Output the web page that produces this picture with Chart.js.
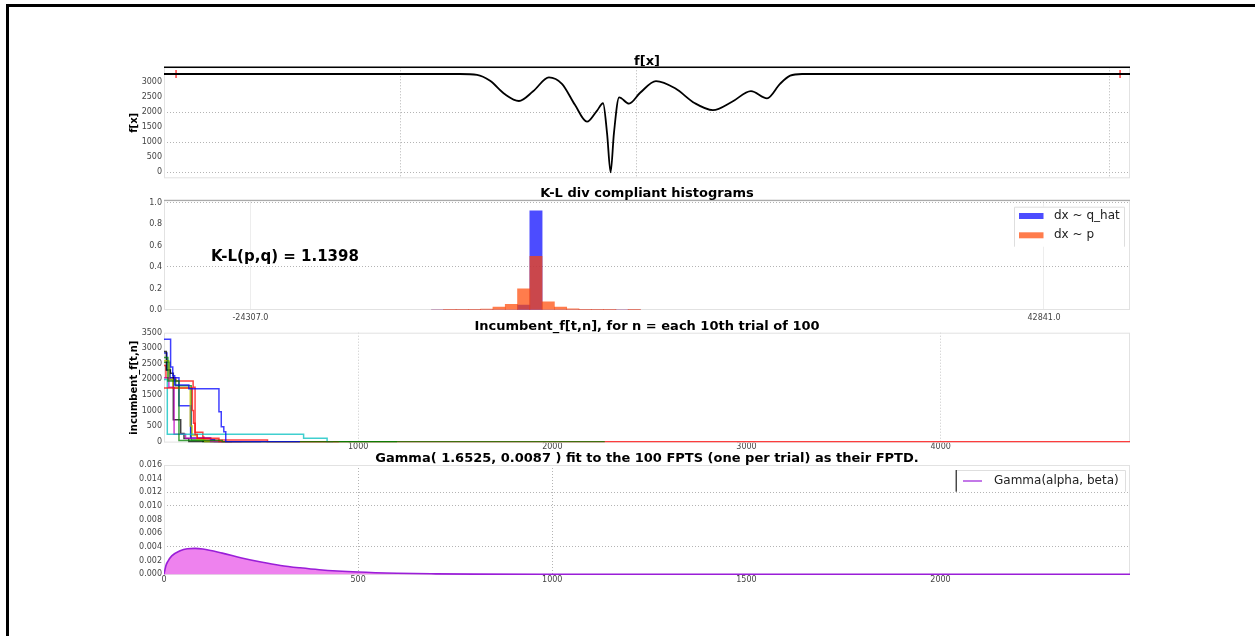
<!DOCTYPE html>
<html>
<head>
<meta charset="utf-8">
<script src="https://cdn.jsdelivr.net/npm/chart.js@4.4.0/dist/chart.umd.min.js"></script>
<style>
  body { margin: 0; background: #fff; }
  #page { position: relative; width: 1255px; height: 636px; overflow: hidden; background: #fff; }
  #frame { position: absolute; left: 6px; top: 4px; width: 1260px; height: 700px; border-left: 3px solid #000; border-top: 3px solid #000; }
  canvas { position: absolute; left: 100px; }
</style>
</head>
<body>
<div id="page">
  <div id="frame"></div>
  <canvas id="fxChart" width="1040" height="150" style="top:40px"></canvas>
  <canvas id="klChart" width="1040" height="150" style="top:180px"></canvas>
  <canvas id="incChart" width="1040" height="145" style="top:310px"></canvas>
  <canvas id="gammaChart" width="1040" height="150" style="top:440px"></canvas>
</div>
<script>
// --- f[x] ---
const fxX = [0, 1.253, 1.325, 1.380, 1.443, 1.502, 1.562, 1.629, 1.684, 1.739, 1.790, 1.832, 1.858, 1.875, 1.890, 1.904, 1.926, 1.968, 2.015, 2.082, 2.163, 2.247, 2.323, 2.404, 2.484, 2.552, 2.607, 2.650, 2.700, 4.088];
const fxY = [3276, 3276, 3250, 3050, 2600, 2377, 2700, 3164, 2950, 2250, 1686, 2050, 2302, 1300, 0, 1300, 2498, 2290, 2650, 3040, 2800, 2300, 2072, 2350, 2707, 2467, 2950, 3220, 3276, 3276];
const fxBounds = [0.051, 4.046];
const fxYTicks = [0, 500, 1000, 1500, 2000, 2500, 3000];
const fxXTicks = [1, 2, 4];

// --- K-L histograms ---
const klBins = [-8464, -7424, -6384, -5344, -4304, -3264, -2224, -1184, -144, 896, 1936, 2976, 4016, 5056, 6096, 7136, 8176];
const klQhat = [0, 0, 0, 0, 0, 0, 0, 0.046, 0.922, 0, 0, 0, 0, 0, 0, 0, 0];
const klP = [0, 0.002, 0.004, 0.004, 0.009, 0.028, 0.053, 0.198, 0.498, 0.077, 0.028, 0.012, 0.004, 0.003, 0.002, 0, 0.004];
const klXTicks = [-24307, 42841];
const klYTicks = [0, 0.2, 0.4, 0.6, 0.8, 1.0];
const klText = 'K-L(p,q) = 1.1398';
const klTextAt = [-27640, 0.49];

// --- incumbent f[t,n], each 10th trial ---
const trial10 = [[0, 3290], [34, 2400], [45, 2120], [55, 1820], [128, 1700], [283, 960], [295, 480], [308, 320], [318, 0], [700, 0]];
const trial20 = [[0, 2700], [20, 1950], [77, 40], [300, 0], [2270, 0]];
const trial30 = [[0, 1720], [146, 1000], [152, 590], [160, 230], [171, 110], [283, 0], [900, 0]];
const trial40 = [[0, 2000], [17, 240], [719, 110], [840, 0], [870, 0]];
const trial50 = [[0, 2050], [25, 1750], [52, 240], [111, 110], [240, 0], [400, 0]];
const trial60 = [[0, 2600], [25, 2000], [45, 1720], [135, 500], [145, 200], [170, 60], [210, 0], [450, 0]];
const trial70 = [[0, 2900], [12, 2300], [33, 2200], [48, 700], [86, 260], [103, 100], [128, 0], [350, 0]];
const trial80 = [[0, 2850], [15, 2300], [30, 2050], [77, 1150], [137, 120], [240, 60], [260, 0], [500, 0]];
const trial90 = [[0, 2550], [30, 2000], [60, 1800], [140, 50], [200, 0], [1200, 0]];
const trial100 = [[0, 2450], [10, 2050], [60, 1950], [150, 1750], [160, 300], [200, 150], [205, 55], [533, 0], [4975, 0]];
const incXTicks = [1000, 2000, 3000, 4000];
const incYTicks = [0, 500, 1000, 1500, 2000, 2500, 3000, 3500];

// --- Gamma fit ---
const gammaX = [0, 5, 10, 20, 40, 60, 80, 100, 150, 200, 250, 300, 350, 400, 500, 600, 700, 800, 1000, 1200, 1500, 2000, 2488];
const gammaY = [0, 0.0013, 0.0019, 0.0027, 0.0034, 0.00375, 0.0038, 0.0037, 0.0031, 0.0024, 0.0018, 0.0013, 0.00095, 0.00067, 0.00033, 0.00015, 0.00007, 0.00003, 0.000006, 0.000001, 0, 0, 0];
const gammaXTicks = [0, 500, 1000, 1500, 2000];
const gammaYTicks = [0, 0.002, 0.004, 0.006, 0.008, 0.010, 0.012, 0.014, 0.016];

Chart.defaults.font.family = '"DejaVu Sans", sans-serif';
Chart.defaults.font.size = 8;
Chart.defaults.color = '#444';

const GRID = '#b4b4b4';
const toXY = (xs, ys) => xs.map((x, i) => ({ x: x, y: ys[i] }));
const stepsXY = steps => steps.map(p => ({ x: p[0], y: p[1] }));
const fixedTicks = values => scale => { scale.ticks = values.map(v => ({ value: v })); };
const gridAt = (values, color) => ctx => (ctx.tick && values.includes(ctx.tick.value)) ? color : 'rgba(0,0,0,0)';

function xAxis(min, max, ticks, grid, fmt, height, pad, dash) {
    return {
        type: 'linear', min: min, max: max, offset: false,
        afterBuildTicks: fixedTicks(ticks),
        afterFit: s => { s.height = height; },
        grid: { drawTicks: false, offset: false, color: grid },
        border: { display: false, dash: dash },
        ticks: { display: !!fmt, padding: pad, autoSkip: false, maxRotation: 0, callback: fmt || (() => '') }
    };
}
function yAxis(min, max, ticks, grid, fmt) {
    return {
        type: 'linear', min: min, max: max,
        afterBuildTicks: fixedTicks(ticks),
        afterFit: s => { s.width = 64; },
        grid: { drawTicks: false, offset: false, color: grid },
        border: { display: false, dash: [1, 2] },
        ticks: { padding: 2, autoSkip: false, callback: fmt }
    };
}

// frames, titles, labels and legends
const decor = {
    id: 'decor',
    beforeDatasetsDraw(chart, args, o) {
        const { ctx, chartArea: a } = chart;
        ctx.save();
        ctx.strokeStyle = '#e2e2e2';
        ctx.lineWidth = 1;
        ctx.strokeRect(a.left + 0.5, a.top + 0.5, a.right - a.left - 1, a.bottom - a.top - 1);
        if (o.topLine) {
            ctx.strokeStyle = o.topLine.color;
            ctx.lineWidth = o.topLine.width;
            ctx.beginPath();
            ctx.moveTo(a.left, a.top);
            ctx.lineTo(a.right, a.top);
            ctx.stroke();
        }
        ctx.restore();
    },
    afterDraw(chart, args, o) {
        const { ctx, chartArea: a } = chart;
        ctx.save();
        ctx.fillStyle = '#000';
        ctx.font = 'bold 13px "DejaVu Sans"';
        ctx.textAlign = 'center';
        ctx.textBaseline = 'alphabetic';
        ctx.fillText(o.title, (a.left + a.right) / 2, a.top - o.titleGap);
        if (o.yTitle) {
            ctx.save();
            ctx.translate(a.left - 30, (a.top + a.bottom) / 2);
            ctx.rotate(-Math.PI / 2);
            ctx.font = 'bold 10px "DejaVu Sans"';
            ctx.textBaseline = 'middle';
            ctx.fillText(o.yTitle, 0, 0);
            ctx.restore();
        }
        if (o.note) {
            ctx.font = 'bold 15px "DejaVu Sans"';
            ctx.textAlign = 'left';
            ctx.textBaseline = 'middle';
            ctx.fillText(o.note.text, chart.scales.x.getPixelForValue(o.note.at[0]), chart.scales.y.getPixelForValue(o.note.at[1]));
        }
        if (o.legend) {
            const L = o.legend;
            const x0 = a.right + L.dx, y0 = a.top + L.dy;
            ctx.fillStyle = '#fff';
            ctx.fillRect(x0, y0, L.w, L.h);
            ctx.lineWidth = 1;
            ctx.strokeStyle = '#dedede';
            ctx.beginPath();
            ctx.moveTo(x0 + 0.5, y0 + L.h); ctx.lineTo(x0 + 0.5, y0 + 0.5);
            ctx.lineTo(x0 + L.w - 0.5, y0 + 0.5); ctx.lineTo(x0 + L.w - 0.5, y0 + L.h);
            ctx.stroke();
            if (L.leftColor) {
                ctx.strokeStyle = L.leftColor;
                ctx.beginPath(); ctx.moveTo(x0 + 0.5, y0); ctx.lineTo(x0 + 0.5, y0 + L.h); ctx.stroke();
            }
            ctx.font = '12px "DejaVu Sans"';
            ctx.textAlign = 'left';
            ctx.textBaseline = 'middle';
            L.items.forEach((idx, i) => {
                const ds = chart.data.datasets[idx];
                const yy = y0 + L.rowY[i];
                if (L.kind === 'rect') {
                    ctx.fillStyle = ds.backgroundColor;
                    ctx.fillRect(x0 + L.swatchX, yy - 3, L.swatchW, 6);
                } else {
                    ctx.strokeStyle = ds.borderColor;
                    ctx.lineWidth = 1.2;
                    ctx.beginPath(); ctx.moveTo(x0 + L.swatchX, yy); ctx.lineTo(x0 + L.swatchX + L.swatchW, yy); ctx.stroke();
                }
                ctx.fillStyle = '#222';
                ctx.fillText(ds.label, x0 + L.textX, yy);
            });
        }
        ctx.restore();
    }
};

const common = { responsive: false, animation: false, events: [] };
const noLegend = { legend: { display: false }, tooltip: { enabled: false } };

// --- f[x] ---
new Chart(document.getElementById('fxChart').getContext('2d'), {
    type: 'line',
    data: {
        datasets: [{
            data: toXY(fxX, fxY),
            borderColor: '#000', borderWidth: 1.8, pointRadius: 0,
            cubicInterpolationMode: 'monotone'
        }, {
            data: fxBounds.map(x => ({ x: x, y: fxY[0] })),
            showLine: false, pointStyle: 'line', rotation: 90, pointRadius: 4,
            borderColor: '#ff4040', borderWidth: 1.5
        }]
    },
    options: Object.assign({}, common, {
        layout: { padding: { left: 0, right: 10, top: 27.3, bottom: 11.7 } },
        scales: {
            x: xAxis(0, 4.088, fxXTicks, GRID, null, 0, 0, [1, 2]),
            y: yAxis(-200, 3500, fxYTicks, gridAt([0, 1000, 2000], GRID), v => v)
        },
        plugins: Object.assign({}, noLegend, {
            decor: { title: 'f[x]', titleGap: 2, yTitle: 'f[x]', topLine: { color: '#000', width: 1.5 } }
        })
    }),
    plugins: [decor]
});

// --- K-L histograms ---
new Chart(document.getElementById('klChart').getContext('2d'), {
    type: 'bar',
    data: {
        datasets: [{
            label: 'dx ~ q_hat',
            data: toXY(klBins, klQhat),
            backgroundColor: 'rgba(0,0,255,0.7)', order: 1
        }, {
            label: 'dx ~ p',
            data: toXY(klBins, klP),
            backgroundColor: 'rgba(255,69,0,0.7)', order: 0
        }]
    },
    options: Object.assign({}, common, {
        grouped: false, barPercentage: 1, categoryPercentage: 1,
        layout: { padding: { left: 0, right: 10, top: 20.3, bottom: 6 } },
        scales: {
            x: xAxis(-31617, 50118, klXTicks, '#ededed', v => v.toFixed(1), 14, 3.2, []),
            y: yAxis(0, 1.02, klYTicks, gridAt([0.4, 1.0], GRID), v => v.toFixed(1))
        },
        plugins: Object.assign({}, noLegend, {
            decor: {
                title: 'K-L div compliant histograms', titleGap: 3, topLine: { color: '#999', width: 1 },
                note: { text: klText, at: klTextAt },
                legend: { dx: -116, dy: 6.4, w: 111, h: 40, kind: 'rect', items: [0, 1], rowY: [9.3, 28.6], swatchX: 5, swatchW: 24.5, textX: 40 }
            }
        })
    }),
    plugins: [decor]
});

// --- incumbent ---
const trials = [trial10, trial20, trial30, trial40, trial50, trial60, trial70, trial80, trial90, trial100];
const trialColors = ['rgba(0,0,255,0.75)', 'rgba(0,128,0,0.75)', 'rgba(255,0,0,0.75)', 'rgba(0,191,191,0.75)', 'rgba(191,0,191,0.75)',
    'rgba(191,191,0,0.75)', 'rgba(0,0,0,0.75)', 'rgba(0,0,255,0.75)', 'rgba(0,128,0,0.75)', 'rgba(255,0,0,0.75)'];
new Chart(document.getElementById('incChart').getContext('2d'), {
    type: 'line',
    data: {
        datasets: trials.map((t, i) => ({
            data: stepsXY(t), stepped: true,
            borderColor: trialColors[i], borderWidth: 1.5, pointRadius: 0
        }))
    },
    options: Object.assign({}, common, {
        layout: { padding: { left: 0, right: 10, top: 22.7, bottom: 2.4 } },
        scales: {
            x: xAxis(0, 4975, incXTicks, gridAt([1000, 4000], '#c8c8c8'), v => v, 10, 0, [1, 2]),
            y: yAxis(-30, 3500, incYTicks, 'rgba(0,0,0,0)', v => v)
        },
        plugins: Object.assign({}, noLegend, {
            decor: { title: 'Incumbent_f[t,n], for n = each 10th trial of 100', titleGap: 2.5, yTitle: 'incumbent_f[t,n]' }
        })
    }),
    plugins: [decor]
});

// --- Gamma ---
new Chart(document.getElementById('gammaChart').getContext('2d'), {
    type: 'line',
    data: {
        datasets: [{
            label: 'Gamma(alpha, beta)',
            data: toXY(gammaX, gammaY),
            borderColor: '#9a1ed8', borderWidth: 1.6, pointRadius: 0,
            backgroundColor: 'rgb(238,130,238)', fill: 'origin',
            cubicInterpolationMode: 'monotone'
        }]
    },
    options: Object.assign({}, common, {
        layout: { padding: { left: 0, right: 10, top: 25, bottom: 3 } },
        scales: {
            x: xAxis(0, 2488, gammaXTicks, gridAt([500, 1000], GRID), v => v, 12, 0.5, [1, 2]),
            y: yAxis(-0.0001, 0.016, gammaYTicks, gridAt([0.004, 0.01, 0.012], GRID), v => v.toFixed(3))
        },
        plugins: Object.assign({}, noLegend, {
            decor: {
                title: 'Gamma( 1.6525, 0.0087 ) fit to the 100 FPTS (one per trial) as their FPTD.', titleGap: 3,
                legend: { dx: -174.3, dy: 5, w: 170.3, h: 21.7, kind: 'line', leftColor: '#000', items: [0], rowY: [11], swatchX: 7.3, swatchW: 19, textX: 38.3 }
            }
        })
    }),
    plugins: [decor]
});
</script>
</body>
</html>
